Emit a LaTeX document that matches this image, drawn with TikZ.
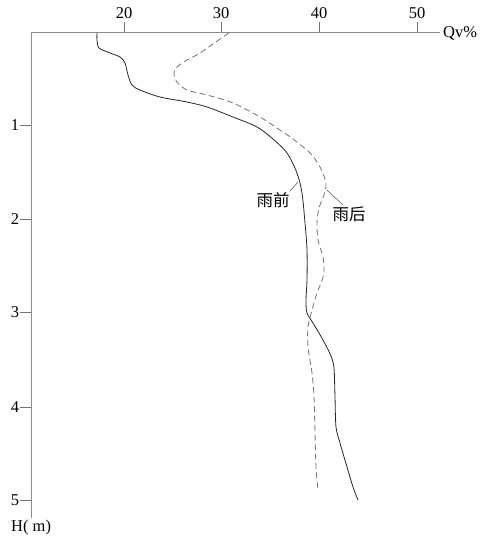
\documentclass[tikz,border=0pt]{standalone}
\usepackage{fontspec}
\setmainfont{Liberation Serif}
\newfontfamily\cjk{Noto Sans CJK SC}
\begin{document}
\begin{tikzpicture}[x=1pt,y=-1pt,
  axisline/.style={draw=black!45,line width=0.9pt},
  tickline/.style={draw=black!55,line width=0.7pt},
  ticklab/.style={font=\fontsize{16.5}{16.5}\selectfont,inner sep=0pt},
  before/.style={draw=black!85,line width=0.8pt},
  after/.style={draw=black!55,line width=0.8pt,dash pattern=on 6pt off 3.5pt},
  curvelab/.style={font=\cjk\fontsize{16.5}{16.5}\selectfont,inner sep=0pt},
  leader/.style={draw=black!70,line width=0.5pt}]
\useasboundingbox (0,0) rectangle (496,541);
% axes
\coordinate (o) at (31,32);
\coordinate (xe) at (440,32);
\coordinate (ye) at (31,518);
\draw[axisline] (xe) -- (o) -- (ye);
% top ticks
\foreach \v/\px in {20/124,30/221,40/319,50/417}{
  \coordinate (tx\v) at (\px,32);
  \draw[tickline] (tx\v) -- ++(0,-10);
  \node[ticklab] (lx\v) at (\px,13) {\v};
}
% left ticks
\foreach \v/\py in {1/125.5,2/219,3/312.5,4/407,5/500}{
  \coordinate (ty\v) at (31,\py);
  \draw[tickline] (ty\v) -- ++(-11,0);
  \node[ticklab] (ly\v) at (15,\py) {\v};
}
\node[ticklab,anchor=west] (qv) at (443,33) {Qv\%};
\node[ticklab,anchor=west] (hm) at (11,528) {H( m)};
% before rain (solid)
\draw[before] plot[smooth,tension=0.5] coordinates {
 (97,33) (97,40) (99,48) (110,53) (120,57) (125,63) (128,75) (132,85) (140,90)
 (160,97) (187,102) (207,107) (233,117) (257,127) (273,139) (287,153) (297,173)
 (302,193) (305,223) (307,250) (307,280) (306,300) (307,313) (313,323) (323,340)
 (331,356) (334,368) (335,397) (336,427) (340,443) (347,467) (353,487) (358,500)};
% after rain (dashed)
\draw[after] plot[smooth,tension=0.5] coordinates {
 (229,33) (220,39) (200,53) (187,60) (177,67) (174,73) (177,82) (187,90) (207,95)
 (233,103) (260,117) (280,130) (293,139) (310,153) (320,167) (326,183) (324,195)
 (319,208) (317,223) (318,240) (323,257) (324,273) (321,283) (317,293) (312,310)
 (308,327) (308,347) (312,373) (314,397) (315,433) (316,467) (318,490)};
% labels
\node[curvelab] (pre) at (273,200) {雨前};
\node[curvelab] (post) at (349,214) {雨后};
\coordinate (preend) at (298,182);
\coordinate (prelab) at (290,191);
\coordinate (postend) at (327,190);
\coordinate (postlab) at (343,205);
\draw[leader] (prelab) -- (preend);
\draw[leader] (postlab) -- (postend);
\end{tikzpicture}
\end{document}
